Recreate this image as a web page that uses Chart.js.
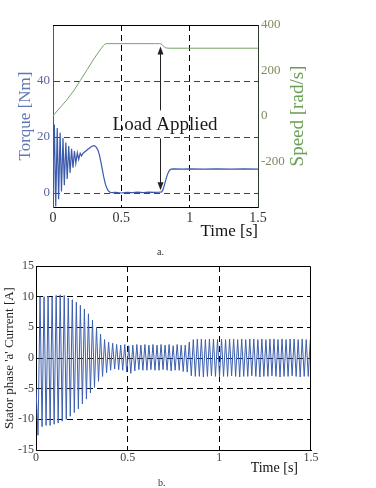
<!DOCTYPE html>
<html>
<head>
<meta charset="utf-8">
<script src="https://cdn.jsdelivr.net/npm/chart.js@4.4.1/dist/chart.umd.min.js"></script>
<style>
  body { margin: 0; background: #fff; width: 376px; height: 488px; position: relative; overflow: hidden; font-family: "Liberation Serif", serif; }
  canvas { position: absolute; left: 0; }
  #torqueChart { top: 0; }
  #currentChart { top: 250px; }
  .cap { position: absolute; font-size: 10px; color: #333; line-height: 12px; }
</style>
</head>
<body>
<canvas id="torqueChart" width="376" height="250"></canvas>
<canvas id="currentChart" width="376" height="238"></canvas>
<div class="cap" style="left:157px;top:246px">a.</div>
<div class="cap" style="left:158px;top:477px">b.</div>
<script>
// ---- data ----
const timeTicks = [0, 0.5, 1, 1.5];
const torqueTicks = [0, 20, 40];
const speedTicks = [-200, 0, 200, 400];
const currentTicks = [-15, -10, -5, 0, 5, 10, 15];

// (a) electromagnetic torque [Nm]
const torqueTime = [0, 0.004, 0.010, 0.020, 0.031, 0.041, 0.052, 0.062, 0.073, 0.083, 0.094, 0.104, 0.115, 0.125,
  0.136, 0.146, 0.157, 0.167, 0.178, 0.188, 0.199, 0.209, 0.22, 0.24, 0.26, 0.28, 0.29, 0.30, 0.31, 0.32, 0.33,
  0.34, 0.35, 0.36, 0.37, 0.38, 0.39, 0.40, 0.41, 0.42, 0.43, 0.46, 0.50, 0.54, 0.58, 0.62, 0.66, 0.70, 0.74,
  0.78, 0.795, 0.805, 0.815, 0.825, 0.835, 0.845, 0.855, 0.865, 0.88, 0.95, 1.0, 1.1, 1.2, 1.3, 1.4, 1.5];
const torqueValues = [0, 12, 24.5, -4.8, 23.2, -2.2, 21.5, 0.5, 19.6, 2.8, 18.0, 5.0, 16.8, 7.2,
  15.8, 9.0, 15.0, 10.6, 14.4, 12.0, 14.2, 13.2, 14.2, 15.0, 15.8, 16.5, 16.8, 16.9, 16.7, 16.1, 15.2,
  13.5, 11.2, 8.6, 6.0, 3.8, 2.2, 1.1, 0.5, 0.2, 0.1, 0.2, 0.0, 0.25, 0.1, 0.3, 0.1, 0.3, 0.2,
  0.3, 0.4, 1.2, 2.8, 4.6, 6.3, 7.5, 8.2, 8.5, 8.6, 8.5, 8.6, 8.5, 8.6, 8.5, 8.6, 8.5];

// (a) rotor speed [rad/s]
const speedTime = [0, 0.01, 0.03, 0.06, 0.1, 0.15, 0.2, 0.25, 0.3, 0.35, 0.37, 0.38, 0.39, 0.45, 0.55, 0.65,
  0.75, 0.78, 0.79, 0.80, 0.81, 0.82, 0.83, 0.85, 0.9, 1.0, 1.2, 1.5];
const speedValues = [0, 8, 22, 42, 70, 110, 156, 204, 252, 295, 310, 316, 318, 318, 318, 318,
  318, 318, 317, 313, 306, 301, 299, 298, 298, 298, 298, 298];

// (b) stator phase 'a' current [A], successive extremes sampled every currentStep seconds
const currentStep = 0.011;
const currentValues = [-5.0, -12.6, 10.0, -11.2, 10.0, -11.0, 10.1, -11.0, 10.0, -10.8,
  10.2, -10.6, 10.3, -10.3, 10.2, -10.0, 9.8, -9.5, 9.5, -8.9,
  9.1, -8.3, 8.6, -7.5, 8.0, -6.7, 7.2, -5.7, 6.2, -4.8,
  5.0, -3.8, 3.9, -3.0, 3.0, -2.4, 2.6, -2.0, 2.4, -1.8,
  2.2, -1.9, 2.1, -2.0, 2.2, -2.3, 2.0, -2.5, 2.1, -2.1,
  2.2, -1.9, 2.1, -2.0, 2.2, -2.0, 2.1, -1.9, 2.2, -2.0,
  2.1, -2.0, 2.2, -1.9, 2.1, -2.0, 2.2, -2.1, 2.0, -2.0,
  2.2, -2.0, 2.1, -2.2, 2.1, -2.3, 2.6, -2.9, 3.0, -3.0,
  3.1, -3.0, 3.1, -3.1, 3.0, -3.0, 3.1, -2.9, 3.1, -3.0,
  3.0, -3.1, 3.1, -3.0, 3.0, -3.0, 3.1, -2.9, 3.1, -3.0,
  3.0, -3.1, 3.1, -3.0, 3.0, -3.0, 3.1, -2.9, 3.1, -3.0,
  3.0, -3.1, 3.1, -3.0, 3.0, -3.0, 3.1, -2.9, 3.1, -3.0,
  3.0, -3.1, 3.1, -3.0, 3.0, -3.0, 3.1, -2.9, 3.1, -3.0,
  3.0, -3.1, 3.1, -3.0, 3.0, -3.0, 3.0];

const serif = "'Liberation Serif', 'Times New Roman', serif";
const setTicks = list => scale => { scale.ticks = list.map(v => ({ value: v })); };
const innerOnly = (lo, hi, color) => c => (c.tick && c.tick.value > lo && c.tick.value < hi) ? color : 'rgba(0,0,0,0)';

function arrow(ctx, x, y0, y1) {
  const dir = y1 < y0 ? 1 : -1;
  ctx.beginPath();
  ctx.moveTo(x + 0.5, y0);
  ctx.lineTo(x + 0.5, y1 + dir * 6);
  ctx.stroke();
  ctx.beginPath();
  ctx.moveTo(x + 0.5, y1);
  ctx.lineTo(x - 2.5, y1 + dir * 8);
  ctx.lineTo(x + 3.5, y1 + dir * 8);
  ctx.closePath();
  ctx.fill();
}

const torqueExtras = {
  id: 'torqueExtras',
  afterDraw(chart) {
    const { ctx, chartArea: a, scales: { x, y, y1 } } = chart;
    ctx.save();
    ctx.strokeStyle = '#000';
    ctx.lineWidth = 1;
    ctx.beginPath();
    ctx.moveTo(a.left, a.top + 0.5);
    ctx.lineTo(a.right, a.top + 0.5);
    ctx.stroke();

    // load step annotation
    const ax = Math.round(x.getPixelForValue(0.78));
    ctx.strokeStyle = '#222';
    ctx.fillStyle = '#222';
    arrow(ctx, ax, y.getPixelForValue(29.5), y1.getPixelForValue(306));
    arrow(ctx, ax, y.getPixelForValue(19.5), y.getPixelForValue(1.0));
    ctx.font = '19px ' + serif;
    ctx.fillStyle = '#1a1a1a';
    ctx.textAlign = 'center';
    ctx.textBaseline = 'alphabetic';
    ctx.fillText('Load Applied', x.getPixelForValue(0.82), y.getPixelForValue(22.4));

    // right axis title reads bottom-to-top like the left one
    ctx.translate(y1.left + 40, (a.top + a.bottom) / 2);
    ctx.rotate(-Math.PI / 2);
    ctx.font = '19px ' + serif;
    ctx.fillStyle = '#6a9e55';
    ctx.textBaseline = 'middle';
    ctx.fillText('Speed [rad/s]', 0, 0);
    ctx.restore();
  }
};

new Chart(document.getElementById('torqueChart'), {
  type: 'line',
  data: {
    datasets: [
      {
        label: 'Torque',
        data: torqueTime.map((t, i) => ({ x: t, y: torqueValues[i] })),
        yAxisID: 'y',
        borderColor: '#3b5aab',
        borderWidth: 1.2,
        pointRadius: 0,
        tension: 0
      },
      {
        label: 'Speed',
        data: speedTime.map((t, i) => ({ x: t, y: speedValues[i] })),
        yAxisID: 'y1',
        borderColor: '#74a366',
        borderWidth: 1,
        pointRadius: 0,
        tension: 0
      }
    ]
  },
  options: {
    responsive: false,
    animation: false,
    events: [],
    layout: { padding: { top: 25, left: 0, right: 58, bottom: 0 } },
    plugins: { legend: { display: false }, tooltip: { enabled: false } },
    scales: {
      x: {
        type: 'linear', min: 0, max: 1.5,
        afterBuildTicks: setTicks(timeTicks),
        afterFit: s => { s.height = 43; },
        ticks: { font: { family: serif, size: 14 }, color: '#333', padding: 3, maxRotation: 0, callback: v => String(v) },
        grid: { drawTicks: false, color: innerOnly(0, 1.5, '#000') },
        border: { color: '#000', dash: [6, 4] },
        title: { display: true, text: 'Time [s]', align: 'end', color: '#111', font: { family: serif, size: 17 }, padding: { top: 0, bottom: 8 } }
      },
      y: {
        position: 'left', min: -5, max: 60,
        afterBuildTicks: setTicks(torqueTicks),
        afterFit: s => { s.width = 53; },
        ticks: { font: { family: serif, size: 13 }, color: '#56679f', padding: 3 },
        grid: { drawTicks: false, color: '#2d4286' },
        border: { color: '#3f54a0', dash: [6, 4] },
        title: { display: true, text: 'Torque [Nm]', color: '#5f78b8', font: { family: serif, size: 17 }, padding: { top: 15, bottom: 0 } }
      },
      y1: {
        position: 'right', min: -400, max: 400,
        afterBuildTicks: setTicks(speedTicks),
        afterFit: s => { s.width = 60; },
        ticks: { font: { family: serif, size: 13 }, color: '#7e8c62', padding: 3 },
        grid: { display: false, drawTicks: false },
        border: { color: '#2f3a2f' }
      }
    }
  },
  plugins: [torqueExtras]
});

const currentExtras = {
  id: 'currentExtras',
  afterDraw(chart) {
    const { ctx, chartArea: a } = chart;
    ctx.save();
    ctx.strokeStyle = '#000';
    ctx.lineWidth = 1;
    ctx.beginPath();
    ctx.moveTo(a.left, a.top + 0.5);
    ctx.lineTo(a.right - 0.5, a.top + 0.5);
    ctx.lineTo(a.right - 0.5, a.bottom);
    ctx.stroke();
    ctx.font = '14px ' + serif;
    ctx.fillStyle = '#111';
    ctx.textAlign = 'right';
    ctx.textBaseline = 'middle';
    ctx.fillText('Time [s]', a.right - 13, a.bottom + 18);
    ctx.restore();
  }
};

new Chart(document.getElementById('currentChart'), {
  type: 'line',
  data: {
    datasets: [{
      label: 'Current',
      data: currentValues.map((v, i) => ({ x: i * currentStep, y: v })),
      borderColor: '#3d5fae',
      borderWidth: 1,
      pointRadius: 0,
      tension: 0
    }]
  },
  options: {
    responsive: false,
    animation: false,
    events: [],
    layout: { padding: { top: 16, left: 0, right: 65, bottom: 0 } },
    plugins: { legend: { display: false }, tooltip: { enabled: false } },
    scales: {
      x: {
        type: 'linear', min: 0, max: 1.5,
        afterBuildTicks: setTicks(timeTicks),
        afterFit: s => { s.height = 38; },
        ticks: { font: { family: serif, size: 12 }, color: '#444', padding: 1, maxRotation: 0, callback: v => String(v) },
        grid: { drawTicks: false, color: innerOnly(0, 1.5, '#000') },
        border: { color: '#000', dash: [6, 4] }
      },
      y: {
        min: -15, max: 15,
        afterBuildTicks: setTicks(currentTicks),
        afterFit: s => { s.width = 36; },
        ticks: { font: { family: serif, size: 12 }, color: '#444', padding: 2 },
        grid: { drawTicks: false, color: innerOnly(-15, 15, '#000') },
        border: { color: '#000', dash: [6, 4] },
        title: { display: true, text: "Stator phase 'a' Current [A]", color: '#222', font: { family: serif, size: 13 }, padding: { top: 2, bottom: 0 } }
      }
    }
  },
  plugins: [currentExtras]
});
</script>
</body>
</html>
